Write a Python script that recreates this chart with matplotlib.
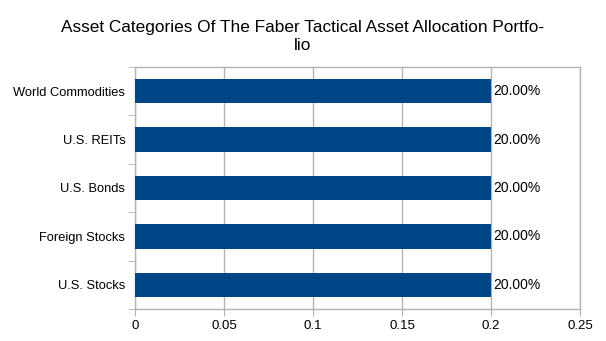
import matplotlib
matplotlib.use("Agg")
import matplotlib.pyplot as plt
from matplotlib.ticker import FuncFormatter, FixedLocator

categories = ["U.S. Stocks", "Foreign Stocks", "U.S. Bonds", "U.S. REITs", "World Commodities"]
values = [0.20, 0.20, 0.20, 0.20, 0.20]
xticks = [0, 0.05, 0.1, 0.15, 0.2, 0.25]

plt.rcParams['font.family'] = ['Liberation Sans', 'DejaVu Sans']

fig = plt.figure(figsize=(6.06, 3.41), dpi=100)
ax = fig.add_axes([135/606, 1 - 309/341, (580-135)/606, (309-67)/341])

ypos = list(range(len(categories)))
ax.barh(ypos, values, height=0.5, color="#004586", zorder=3)
for y, v in zip(ypos, values):
    ax.text(v + 0.0010, y, f"{v*100:.2f}%", va="center", ha="left", fontsize=10, color="black")

ax.set_xlim(0, 0.25)
ax.set_ylim(-0.5, len(categories) - 0.5)
ax.set_yticks(ypos)
ax.set_yticklabels(categories, fontsize=9.3)
ax.yaxis.set_minor_locator(FixedLocator([i - 0.5 for i in range(len(categories) + 1)]))
ax.tick_params(axis="y", which="major", length=0, pad=7)
ax.tick_params(axis="y", which="minor", length=5, color="#b3b3b3")
ax.set_xticks(xticks)
ax.xaxis.set_major_formatter(FuncFormatter(lambda v, p: f"{v:g}"))
ax.tick_params(axis="x", length=5, color="#b3b3b3", labelsize=9.5, pad=3)
ax.grid(axis="x", color="#b3b3b3", linewidth=1, zorder=0)
for s in ax.spines.values():
    s.set_color("#b3b3b3")
    s.set_linewidth(1)

fig.suptitle("Asset Categories Of The Faber Tactical Asset Allocation Portfo-\nlio",
             x=0.5, y=0.942, fontsize=12.4, linespacing=1.3, va="top")

fig.savefig("out.png", dpi=100, facecolor="white")
